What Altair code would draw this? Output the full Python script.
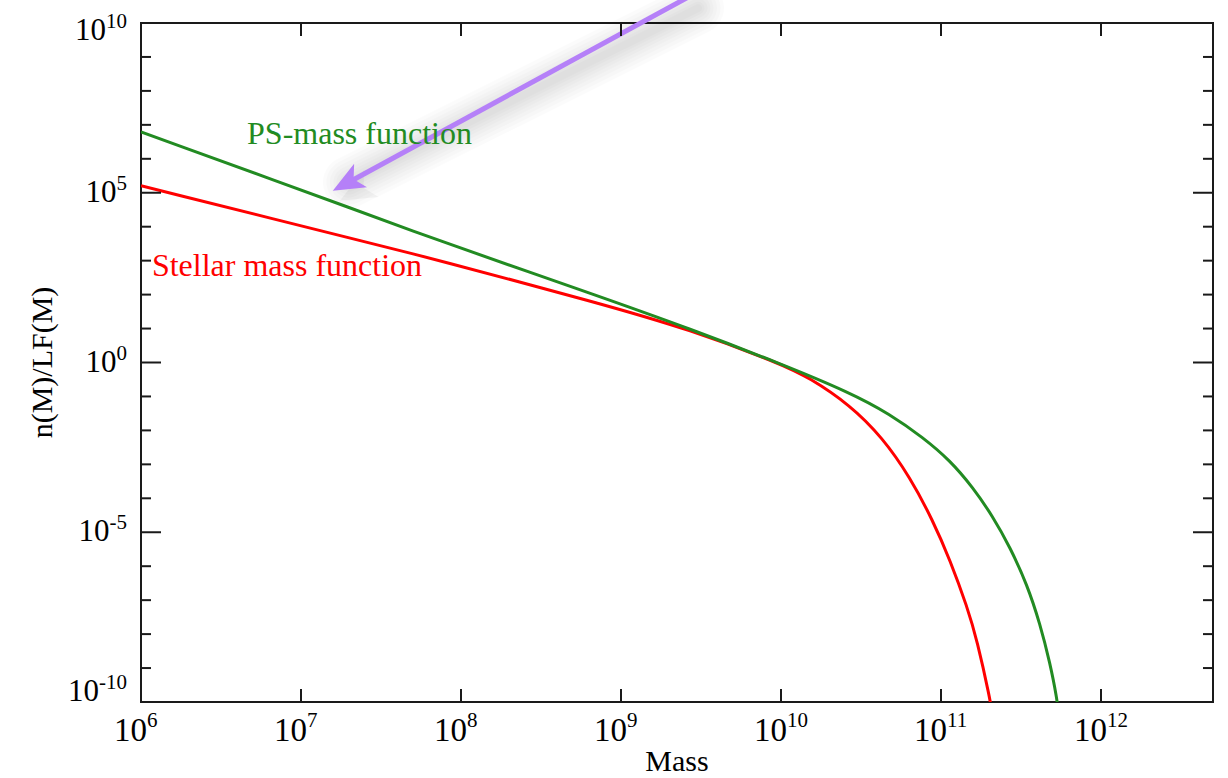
import math
import altair as alt
import pandas as pd

# Stellar mass function (Schechter-like) and Press-Schechter mass function
stellar_mass = [1.0e6, 3.1e7, 6.4e7, 7.4e8, 2.7e9, 9.9e9, 1.5e10, 2.7e10, 4.3e10,
                6.4e10, 8.9e10, 1.14e11, 1.46e11, 1.68e11, 2.02e11, 2.1e11]
stellar_n = [1.6e5, 2.8e3, 1.2e3, 55, 9.3, 0.93, 0.36, 5.6e-2, 6.2e-3,
             4.2e-4, 2.2e-5, 1.5e-6, 6.2e-8, 6.6e-9, 1.3e-10, 4e-11]

ps_mass = [1.0e6, 3.1e7, 6.4e7, 7.4e8, 2.7e9, 9.9e9, 2.7e10, 4.8e10, 7.7e10, 1.14e11,
           1.58e11, 2.1e11, 2.7e11, 3.45e11, 4.16e11, 4.8e11, 5.3e11, 5.45e11]
ps_n = [6.2e6, 1.74e4, 4.8e3, 87, 9.8, 0.93, 0.13, 3.0e-2, 6.2e-3, 1.3e-3,
        2.1e-4, 3.0e-5, 3.6e-6, 2.9e-7, 2.0e-8, 1.4e-9, 1.3e-10, 4e-11]

series_names = ["Stellar mass function", "PS-mass function"]
series_colors = ["#ff0000", "#228b22"]

# curve labels (left end of text, alphabetic baseline)
label_mass = [1.17e6, 4.6e6]
label_n = [3.6e2, 2.75e6]

# annotation arrow: tail (off the top), neck (where the shaft meets the head), tip
arrow_mass = [2.7e9, 1.99e7, 1.58e7]
arrow_n = [6.2e10, 2.04e5, 1.15e5]

x_tick_exponents = [6, 7, 8, 9, 10, 11, 12]
y_tick_exponents = list(range(-10, 11))
y_label_exponents = [10, 5, 0, -5, -10]

x_title = "Mass"
y_title = "n(M)/LF(M)"

W, H = 1072, 679
FONT = "Liberation Serif"
X_MIN, X_MAX = 1e6, 5.01e12
Y_MIN, Y_MAX = 1e-10, 1e10
INK = "#1a1a1a"
PURPLE = "#b580f8"

x_scale = alt.Scale(type="log", domain=[X_MIN, X_MAX], nice=False)
y_scale = alt.Scale(type="log", domain=[Y_MIN, Y_MAX], nice=False)
color_scale = alt.Scale(domain=series_names, range=series_colors)


def to_px(m, n):
    px = (math.log10(m) - math.log10(X_MIN)) / (math.log10(X_MAX) - math.log10(X_MIN)) * W
    py = (math.log10(Y_MAX) - math.log10(n)) / (math.log10(Y_MAX) - math.log10(Y_MIN)) * H
    return px, py


tail_px = to_px(arrow_mass[0], arrow_n[0])
tip_px = to_px(arrow_mass[2], arrow_n[2])
head_angle = math.degrees(math.atan2(tip_px[0] - tail_px[0], -(tip_px[1] - tail_px[1]))) % 360

curves = pd.concat([
    pd.DataFrame({"mass": stellar_mass, "n": stellar_n, "series": series_names[0]}),
    pd.DataFrame({"mass": ps_mass, "n": ps_n, "series": series_names[1]}),
], ignore_index=True)

lines = alt.Chart(curves).mark_line(strokeWidth=3, clip=True, interpolate="basis").encode(
    x=alt.X("mass:Q", scale=x_scale, axis=None),
    y=alt.Y("n:Q", scale=y_scale, axis=None),
    color=alt.Color("series:N", scale=color_scale, legend=None),
    detail="series:N",
)

labels_df = pd.DataFrame({"mass": label_mass, "n": label_n, "series": series_names})
curve_labels = alt.Chart(labels_df).mark_text(
    align="left", baseline="alphabetic", font=FONT, fontSize=32
).encode(
    x=alt.X("mass:Q", scale=x_scale, axis=None),
    y=alt.Y("n:Q", scale=y_scale, axis=None),
    text="series:N",
    color=alt.Color("series:N", scale=color_scale, legend=None),
)

# arrow shaft + soft drop shadow built from stacked translucent strokes
shaft_df = pd.DataFrame({"m": [arrow_mass[0]], "n": [arrow_n[0]],
                         "m2": [arrow_mass[1]], "n2": [arrow_n[1]]})
shaft_enc = dict(
    x=alt.X("m:Q", scale=x_scale, axis=None),
    y=alt.Y("n:Q", scale=y_scale, axis=None),
    x2="m2:Q",
    y2="n2:Q",
)
shadow_layers = [
    alt.Chart(shaft_df).mark_rule(color="#000000", opacity=0.016, strokeWidth=w,
                                  strokeCap="round", xOffset=8, yOffset=12).encode(**shaft_enc)
    for w in (52, 45, 38, 31, 25, 19, 13, 8)
]
shaft = alt.Chart(shaft_df).mark_rule(color=PURPLE, strokeWidth=5).encode(**shaft_enc)

tip_df = pd.DataFrame({"m": [arrow_mass[2]], "n": [arrow_n[2]]})
head_shape = "M0,0 L0.85,2 L0,1.5 L-0.85,2 Z"
head_shadow = alt.Chart(tip_df).mark_point(
    shape=head_shape, size=1300, angle=head_angle, filled=True, color="#000000",
    opacity=0.04, strokeWidth=0, xOffset=7, yOffset=10
).encode(x=alt.X("m:Q", scale=x_scale, axis=None), y=alt.Y("n:Q", scale=y_scale, axis=None))
head = alt.Chart(tip_df).mark_point(
    shape=head_shape, size=1000, angle=head_angle, filled=True, color=PURPLE,
    opacity=1, strokeWidth=0
).encode(x=alt.X("m:Q", scale=x_scale, axis=None), y=alt.Y("n:Q", scale=y_scale, axis=None))

# inward ticks on all four sides
xt_df = pd.DataFrame({"m": [10.0 ** e for e in x_tick_exponents],
                      "exp": [str(e) for e in x_tick_exponents]})
x_ticks_bottom = alt.Chart(xt_df).mark_rule(color=INK, strokeWidth=2).encode(
    x=alt.X("m:Q", scale=x_scale, axis=None), y=alt.value(H), y2=alt.value(H - 13))
x_ticks_top = alt.Chart(xt_df).mark_rule(color=INK, strokeWidth=2).encode(
    x=alt.X("m:Q", scale=x_scale, axis=None), y=alt.value(0), y2=alt.value(13))

yt_df = pd.DataFrame({"v": [10.0 ** e for e in y_tick_exponents],
                      "major": [e % 5 == 0 for e in y_tick_exponents]})
y_major = alt.Chart(yt_df).transform_filter("datum.major")
y_minor = alt.Chart(yt_df).transform_filter("!datum.major")
y_tick_layers = []
for base, length in ((y_major, 20), (y_minor, 10)):
    y_enc = alt.Y("v:Q", scale=y_scale, axis=None)
    y_tick_layers.append(base.mark_rule(color=INK, strokeWidth=2).encode(
        y=y_enc, x=alt.value(0), x2=alt.value(length)))
    y_tick_layers.append(base.mark_rule(color=INK, strokeWidth=2).encode(
        y=y_enc, x=alt.value(W), x2=alt.value(W - length)))

# x tick labels: "10" with a raised exponent
x_base = alt.Chart(xt_df).mark_text(
    align="right", baseline="middle", font=FONT, fontSize=33, color="black", dx=6
).encode(x=alt.X("m:Q", scale=x_scale, axis=None), y=alt.value(H + 29), text=alt.value("10"))
x_exp = alt.Chart(xt_df).mark_text(
    align="left", baseline="middle", font=FONT, fontSize=21, color="black", dx=6
).encode(x=alt.X("m:Q", scale=x_scale, axis=None), y=alt.value(H + 19), text="exp:N")

# y tick labels
y_label_layers = []
for e in y_label_exponents:
    exp_text = str(e)
    exp_width = 10.5 * sum(c.isdigit() for c in exp_text) + 7 * exp_text.count("-")
    edge = -(14 + exp_width)
    shift = 8 if e == max(y_label_exponents) else (-10 if e == min(y_label_exponents) else 0)
    one = pd.DataFrame({"v": [10.0 ** e], "exp": [exp_text]})
    y_label_layers.append(alt.Chart(one).mark_text(
        align="right", baseline="middle", font=FONT, fontSize=31, color="black", dy=shift
    ).encode(y=alt.Y("v:Q", scale=y_scale, axis=None), x=alt.value(edge), text=alt.value("10")))
    y_label_layers.append(alt.Chart(one).mark_text(
        align="left", baseline="middle", font=FONT, fontSize=21, color="black", dy=shift - 9
    ).encode(y=alt.Y("v:Q", scale=y_scale, axis=None), x=alt.value(edge), text="exp:N"))

# axis titles
title_df = pd.DataFrame({"t": [x_title]})
x_title_mark = alt.Chart(title_df).mark_text(
    align="center", baseline="alphabetic", font=FONT, fontSize=30, color="black"
).encode(x=alt.value(W / 2), y=alt.value(H + 69), text="t:N")
ytitle_df = pd.DataFrame({"t": [y_title]})
y_title_mark = alt.Chart(ytitle_df).mark_text(
    align="center", baseline="middle", font=FONT, fontSize=30, color="black", angle=270
).encode(x=alt.value(-98), y=alt.value(H / 2), text="t:N")

chart = alt.layer(
    *shadow_layers, head_shadow, lines, shaft, head, curve_labels,
    x_ticks_bottom, x_ticks_top, *y_tick_layers, x_base, x_exp, *y_label_layers,
    x_title_mark, y_title_mark
).properties(
    width=W, height=H,
    autosize=alt.AutoSizeParams(type="none"),
    padding={"left": 141, "top": 23, "right": 15, "bottom": 76},
    background="white",
).configure_view(stroke=INK, strokeWidth=2)

chart.save("out.html", embed_options={"renderer": "svg", "actions": False})
